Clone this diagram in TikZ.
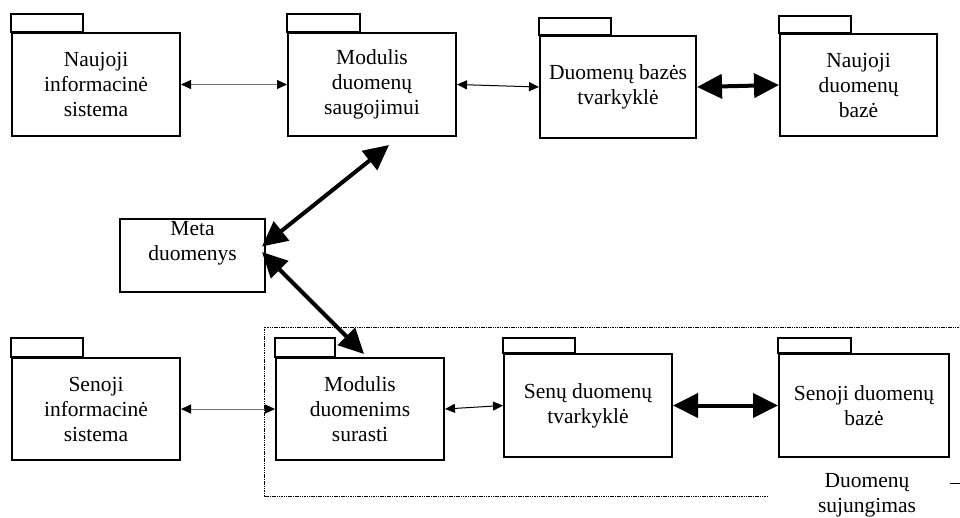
\documentclass[tikz,border=0pt]{standalone}
\usepackage{fontspec}
\setmainfont{Liberation Serif}
\usetikzlibrary{arrows.meta,calc}

\tikzset{
  pkgbody/.style={draw, line width=2pt, fill=white, inner sep=0pt, align=center,
    font=\fontsize{21.5}{25}\selectfont},
  pkgtab/.style={draw, line width=1.8pt},
  metabox/.style={draw, line width=2pt, inner sep=0pt},
  txt/.style={inner sep=0pt, align=center, font=\fontsize{21.5}{25}\selectfont},
  thinlink/.style={line width=1pt,
    {Triangle[length=10pt,width=9pt,color=black]}-{Triangle[length=10pt,width=9pt,color=black]}},
  thicklink/.style={line width=4pt, {Triangle[length=25pt,width=24pt]}-{Triangle[length=25pt,width=24pt]}},
  groupframe/.style={line width=1pt, dash pattern=on 1.5pt off 0.8pt, black},
}

\begin{document}
\begin{tikzpicture}[x=1pt,y=-1pt]
\useasboundingbox (0,0) rectangle (960,517);

% group frame around the lower retrieval chain
\draw[groupframe] (768,496) -- (264,496) -- (264,327) -- (960,327);
\draw[line width=0.9pt] (950,483) -- (960,483);
\node[txt] (grp) at (867,495.5) {Duomenų\\sujungimas};

% upper row
\node[pkgbody, minimum width=168pt, minimum height=103pt] (nis) at (96,84.5) {Naujoji\\informacinė\\sistema};
\draw[pkgtab] (nis.north west) rectangle ++(72,-18);
\node[pkgbody, minimum width=168pt, minimum height=103pt] (mds) at (372,84.5) {Modulis\\duomenų\\saugojimui};
\draw[pkgtab] (mds.north west) rectangle ++(73,-18);
\node[pkgbody, minimum width=156pt, minimum height=102pt] (dbt) at (618,87) {Duomenų bazės\\tvarkyklė};
\draw[pkgtab] (dbt.north west) rectangle ++(72,-17);
\node[pkgbody, minimum width=157pt, minimum height=102pt] (ndb) at (858.5,85) {Naujoji\\duomenų\\bazė};
\draw[pkgtab] (ndb.north west) rectangle ++(72,-17);

% metadata box
\node[metabox, minimum width=145pt, minimum height=73pt] (meta) at (192.5,255.5) {};
\node[txt] (metatxt) at (192.5,243) {Meta\\duomenys};

% lower row
\node[pkgbody, minimum width=168pt, minimum height=102pt] (sis) at (96,409) {Senoji\\informacinė\\sistema};
\draw[pkgtab] (sis.north west) rectangle ++(72,-19);
\node[pkgbody, minimum width=168pt, minimum height=102pt] (mdr) at (360,409) {Modulis\\duomenims\\surasti};
\draw[pkgtab] (mdr.north west) rectangle ++(60,-19);
\node[pkgbody, minimum width=168pt, minimum height=103pt] (sdt) at (588,405.5) {Senų duomenų\\tvarkyklė};
\draw[pkgtab] (sdt.north west) rectangle ++(72,-15);
\node[pkgbody, minimum width=170pt, minimum height=103pt] (sdb) at (864,405.5) {Senoji duomenų\\bazė};
\draw[pkgtab] (sdb.north west) rectangle ++(73,-15);

% connectors
\draw[thinlink, draw=black!55] (nis.east) -- (mds.west);
\draw[thinlink] (mds.east) -- (dbt.west);
\draw[thicklink] (dbt.east) -- (ndb.west);
\draw[thicklink] ($(meta.east)+(-4,-9)$) -- ($(mds.south)+(17,8)$);
\draw[thicklink] ($(meta.east)+(-4,-3.5)$) -- ($(mdr.north)+(4,-3)$);
\draw[thinlink, draw=black!55] (sis.east) -- (mdr.west);
\draw[thinlink] (mdr.east) -- (sdt.west);
\draw[thicklink] (sdt.east) -- (sdb.west);
\end{tikzpicture}
\end{document}
